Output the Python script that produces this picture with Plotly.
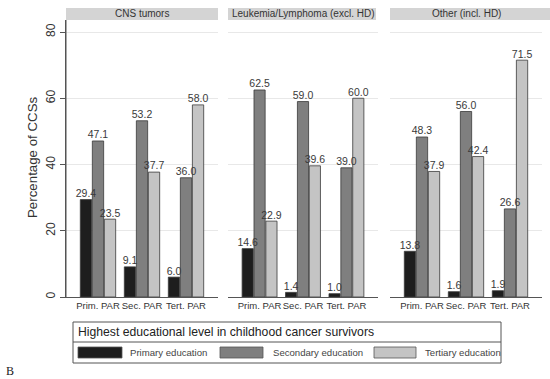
import plotly.graph_objects as go

W, H = 550, 379

groups = ["CNS tumors", "Leukemia/Lymphoma (excl. HD)", "Other (incl. HD)"]
categories = ["Prim. PAR", "Sec. PAR", "Tert. PAR"]
series_names = ["Primary education", "Secondary education", "Tertiary education"]

primary = [[29.4, 9.1, 6.0], [14.6, 1.4, 1.0], [13.8, 1.6, 1.9]]
secondary = [[47.1, 53.2, 36.0], [62.5, 59.0, 39.0], [48.3, 56.0, 26.6]]
tertiary = [[23.5, 37.7, 58.0], [22.9, 39.6, 60.0], [37.9, 42.4, 71.5]]
y_ticks = [0, 20, 40, 60, 80]

colors = ["#1e1e1e", "#7f7f7f", "#c4c4c4"]
all_series = [primary, secondary, tertiary]
FONT = "Liberation Sans, Arial, sans-serif"

def px_x(p):
    return p / W

def px_y(p):
    return 1 - p / H

# panel pixel extents
panels = [(66, 218), (228, 378), (390, 542)]
y_top_px, y_bot_px = 20, 297
ymax = (y_bot_px - y_top_px) / 3.3125

fig = go.Figure()
for gi in range(3):
    xa = "x" if gi == 0 else f"x{gi+1}"
    ya = "y" if gi == 0 else f"y{gi+1}"
    for si in range(3):
        vals = all_series[si][gi]
        fig.add_trace(go.Bar(
            x=categories, y=vals, name=series_names[si],
            xaxis=xa, yaxis=ya, showlegend=False,
            offsetgroup=str(si),
            marker=dict(color=colors[si], line=dict(color="#3a3a3a", width=0.8)),
            hoverinfo="skip",
        ))
# value labels drawn on top of all bars
for gi in range(3):
    xa = "x" if gi == 0 else f"x{gi+1}"
    ya = "y" if gi == 0 else f"y{gi+1}"
    for si in range(3):
        vals = all_series[si][gi]
        fig.add_trace(go.Scatter(
            x=categories, y=vals, mode="text", name=series_names[si],
            xaxis=xa, yaxis=ya, showlegend=False, offsetgroup=str(si),
            text=[f"{v:.1f}" for v in vals], textposition="top center",
            textfont=dict(size=10.5, color="#3a3a3a", family=FONT),
            cliponaxis=False,
        ))

layout = dict(
    width=W, height=H, margin=dict(l=0, r=0, t=0, b=0, autoexpand=False),
    paper_bgcolor="white", plot_bgcolor="white",
    barmode="group", bargap=0.18, bargroupgap=0.06,
    scattermode="group", scattergap=0.18,
    font=dict(family=FONT, color="#333333"),
)

for gi, (x0, x1) in enumerate(panels):
    xk = "xaxis" if gi == 0 else f"xaxis{gi+1}"
    yk = "yaxis" if gi == 0 else f"yaxis{gi+1}"
    ya = "y" if gi == 0 else f"y{gi+1}"
    xa = "x" if gi == 0 else f"x{gi+1}"
    layout[xk] = dict(
        domain=[px_x(x0), px_x(x1)], anchor=ya, automargin=False,
        range=[-0.727, 2.727], showline=True, linecolor="#555555", linewidth=1,
        ticks="", tickangle=0, tickfont=dict(size=9.5, color="#333333", family=FONT),
        showgrid=False, fixedrange=True,
    )
    ydict = dict(
        domain=[px_y(y_bot_px), px_y(y_top_px)], anchor=xa, automargin=False,
        range=[0, ymax], tickvals=y_ticks, showgrid=True,
        gridcolor="#e8e8e8", gridwidth=1, zeroline=False, fixedrange=True,
    )
    if gi == 0:
        ydict.update(showline=True, linecolor="#555555", linewidth=1,
                     ticks="outside", ticklen=5, tickcolor="#555555",
                     tickangle=-90, tickfont=dict(size=12, color="#333333"))
    else:
        ydict.update(showticklabels=False, showline=False, ticks="", matches="y")
    layout[yk] = ydict

fig.update_layout(**layout)

shapes = []
annotations = []
# explicit left axis line for first panel
shapes.append(dict(type="line", xref="paper", yref="paper",
                   x0=px_x(66), x1=px_x(66), y0=px_y(297.5), y1=px_y(20),
                   line=dict(color="#555555", width=1), layer="above"))
# y-axis title
annotations.append(dict(xref="paper", yref="paper", x=px_x(33), y=px_y(157),
                        text="Percentage of CCSs", textangle=-90, showarrow=False,
                        xanchor="center", yanchor="middle",
                        font=dict(size=13.3, color="#333333")))
# facet headers
header_ext = [(66, 218), (228, 376), (390, 550)]
for gi, (x0, x1) in enumerate(header_ext):
    shapes.append(dict(type="rect", xref="paper", yref="paper",
                       x0=px_x(x0), x1=px_x(x1), y0=px_y(20), y1=px_y(8),
                       fillcolor="#d4d4d4", line=dict(width=0), layer="below"))
    annotations.append(dict(xref="paper", yref="paper", x=px_x((panels[gi][0] + panels[gi][1]) / 2),
                            y=px_y(14), text=groups[gi], showarrow=False,
                            font=dict(size=10, color="#333333"), xanchor="center", yanchor="middle"))

# legend box
shapes.append(dict(type="rect", xref="paper", yref="paper",
                   x0=px_x(73), x1=px_x(501), y0=px_y(363), y1=px_y(322),
                   line=dict(color="#555555", width=1), fillcolor="white"))
shapes.append(dict(type="line", xref="paper", yref="paper",
                   x0=px_x(73), x1=px_x(501), y0=px_y(342), y1=px_y(342),
                   line=dict(color="#555555", width=1)))
annotations.append(dict(xref="paper", yref="paper", x=px_x(76), y=px_y(332),
                        text="Highest educational level in childhood cancer survivors",
                        showarrow=False, xanchor="left", yanchor="middle",
                        font=dict(size=12.2, color="#222222")))
sw = [(78, 122, 128), (220, 263, 271), (374, 416, 423)]
for si, (a, b, t) in enumerate(sw):
    shapes.append(dict(type="rect", xref="paper", yref="paper",
                       x0=px_x(a), x1=px_x(b), y0=px_y(358), y1=px_y(347),
                       fillcolor=colors[si], line=dict(color="#555555", width=0.8)))
    annotations.append(dict(xref="paper", yref="paper", x=px_x(t), y=px_y(352.5),
                            text=series_names[si], showarrow=False, xanchor="left", yanchor="middle",
                            font=dict(size=9.6, color="#444444")))

annotations.append(dict(xref="paper", yref="paper", x=px_x(4), y=px_y(371),
                        text="B", showarrow=False, xanchor="left", yanchor="middle",
                        font=dict(size=12, color="#222222", family="Liberation Serif")))

fig.update_layout(shapes=shapes, annotations=annotations)
fig.write_html("out.html", config={"displayModeBar": False},
               post_script="document.body.style.margin='0';document.body.style.overflow='hidden';")
